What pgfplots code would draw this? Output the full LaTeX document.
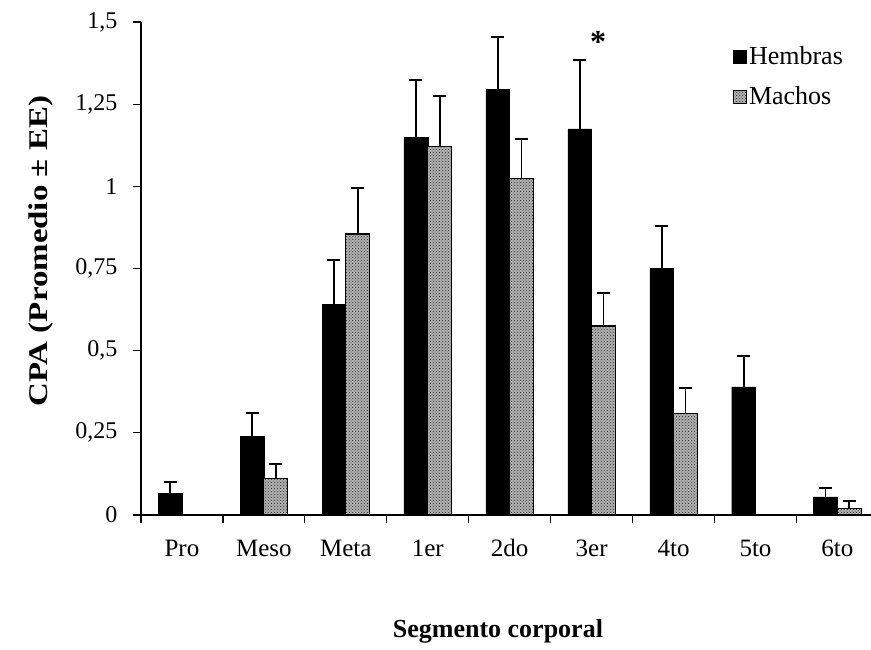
\documentclass[border=0pt]{standalone}
\usepackage{fontspec}
\setmainfont{Liberation Serif}
\usepackage{pgfplots}
\usepackage{pgfplotstable}
\pgfplotsset{compat=1.18}
\usetikzlibrary{patterns}
\pgfplotstableread{
x y e
0 0.065 0.035
1 0.24 0.07
2 0.64 0.135
3 1.15 0.175
4 1.295 0.16
5 1.175 0.21
6 0.75 0.13
7 0.39 0.095
8 0.055 0.027
}\hembras
\pgfplotstableread{
x y e
1 0.11 0.045
2 0.855 0.14
3 1.12 0.155
4 1.025 0.12
5 0.575 0.10
6 0.31 0.075
8 0.02 0.023
}\machos
\begin{document}
\begin{tikzpicture}
\path[use as bounding box] (-141pt,-134pt) rectangle (730pt,515pt);
\begin{axis}[
  at={(0pt,0pt)}, anchor=south west,
  scale only axis, width=730pt, height=493pt,
  xmin=-0.5, xmax=8.41, ymin=0, ymax=1.5,
  axis x line*=bottom, axis y line*=left,
  axis line style={line width=1.3pt, -},
  xtick={0,...,8},
  xticklabels={Pro,Meso,Meta,1er,2do,3er,4to,5to,6to},
  major x tick style={draw=none},
  minor xtick={-0.5,0.5,1.5,2.5,3.5,4.5,5.5,6.5,7.5},
  minor x tick style={line width=1.2pt, black},
  minor tick length=8pt,
  ytick={0,0.25,0.5,0.75,1,1.25,1.5},
  yticklabels={{0},{0,25},{0,5},{0,75},{1},{1,25},{1,5}},
  major y tick style={line width=1.2pt, black},
  major tick length=8pt,
  tick align=outside,
  yticklabel style={font=\fontsize{24}{26}\selectfont, xshift=-12pt},
  xticklabel style={font=\fontsize{25}{28}\selectfont, anchor=base, yshift=-33pt},
  ylabel={\scalebox{1.22}[1]{CPA (Promedio ± EE)}},
  xlabel={Segmento corporal},
  ylabel style={font=\bfseries\fontsize{27}{30}\selectfont,
    at={(axis description cs:-0.137,0.535)}, anchor=center},
  xlabel style={font=\bfseries\fontsize{26}{30}\selectfont,
    at={(axis description cs:0.489,-0.237)}, anchor=center},
  legend style={at={(axis description cs:0.808,0.958)}, anchor=north west,
    draw=none, fill=none, font=\fontsize{26}{30}\selectfont,
    row sep=16pt, inner xsep=2pt},
  legend cell align=left,
  legend image code/.code={\draw[#1, line width=1pt] (0pt,-7pt) rectangle (13pt,6pt);},
  error bars/y dir=plus, error bars/y explicit,
  error bars/error bar style={line width=1.8pt, black},
  error bars/error mark options={rotate=90, mark size=6.5pt, line width=2pt, black},
]
\addplot[ybar, bar width=0.29, bar shift=0pt, fill=black, draw=black]
  table[x expr=\thisrow{x}-0.145, y=y, y error=e] {\hembras};
\addlegendentry{Hembras}
\addplot[ybar, bar width=0.29, bar shift=0pt, draw=black, line width=1.2pt,
  fill=black!30, postaction={pattern=crosshatch dots, pattern color=black!85}]
  table[x expr=\thisrow{x}+0.145, y=y, y error=e] {\machos};
\addlegendentry{Machos}
\node[font=\bfseries\fontsize{32}{32}\selectfont] at (axis cs:5.08,1.44) {*};
\end{axis}
\end{tikzpicture}
\end{document}
